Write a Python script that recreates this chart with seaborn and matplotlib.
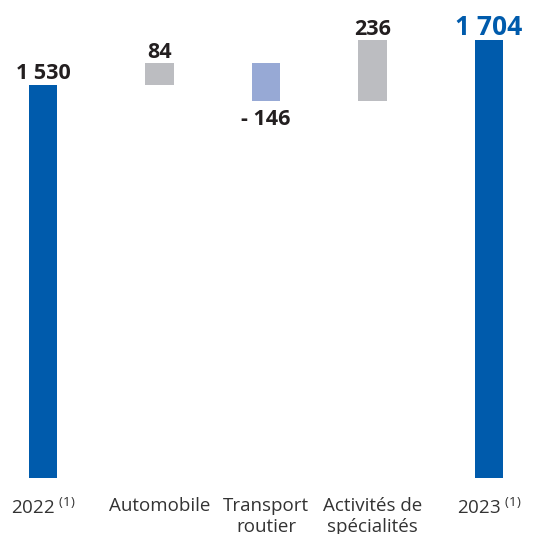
import numpy as np
import pandas as pd
import matplotlib
matplotlib.use('Agg')
import matplotlib.pyplot as plt
import seaborn as sns

## =============================== ##
## data

categories = ['2022', 'Automobile', 'Transport\nroutier', 'Activités de\nspécialités', '2023']
values = [1530, 84, -146, 236, 1704]
kinds = ['total', 'delta', 'delta', 'delta', 'total']
value_labels = ['1 530', '84', '- 146', '236', '1 704']
footnotes = ['(1)', '', '', '', '(1)']

BLUE = '#005BAC'
GREY = '#BCBDC1'
LIGHTBLUE = '#97A9D5'
DARK = '#231F20'

## =============================== ##

sns.set_style('white')
plt.rcParams['font.family'] = ['Open Sans', 'DejaVu Sans']

df = pd.DataFrame({'category': categories, 'value': values, 'kind': kinds})
# floating bars: bottom of each delta is the running total before it
running = 0.
bottoms, heights = [], []
for v, k in zip(df['value'], df['kind']):
	if k == 'total':
		bottoms.append(0.)
		heights.append(v)
		running = v
	else:
		bottoms.append(running if v >= 0 else running + v)
		heights.append(abs(v))
		running += v
df['bottom'] = bottoms
df['height'] = heights
df['top'] = df['bottom'] + df['height']
df['color'] = [BLUE if k == 'total' else (GREY if v >= 0 else LIGHTBLUE) for v, k in zip(df['value'], df['kind'])]

fig = plt.figure(figsize=(5.55, 5.34), dpi=100)
ax = fig.add_axes([0., 56. / 534, 1., 478. / 534])

# slot positions (the middle bars sit a bit closer together)
x = np.array([0., 1.045, 2., 2.955, 4.])
ax.bar(x, df['height'], bottom=df['bottom'], width=0.26, color=df['color'], edgecolor='none')

for i, row in df.iterrows():
	if row['kind'] == 'total':
		is_last = (i == len(df) - 1)
		ax.annotate(value_labels[i], xy=(x[i], row['top']), xytext=(0, 4), textcoords='offset points',
				ha='center', va='baseline', fontsize=19 if is_last else 15.5, fontweight='bold',
				color=BLUE if is_last else DARK)
	elif row['value'] >= 0:
		ax.annotate(value_labels[i], xy=(x[i], row['top']), xytext=(0, 4), textcoords='offset points',
				ha='center', va='baseline', fontsize=15.5, fontweight='bold', color=DARK)
	else:
		ax.annotate(value_labels[i], xy=(x[i], row['bottom']), xytext=(0, -6), textcoords='offset points',
				ha='center', va='top', fontsize=15.5, fontweight='bold', color=DARK)

ticklabels = [c + (r' $^{\mathregular{%s}}$' % f if f else '') for c, f in zip(categories, footnotes)]
ax.set_xticks(x)
ax.set_xticklabels(ticklabels, fontsize=13.5, color='#333333', linespacing=1.15)
ax.tick_params(axis='x', length=0, pad=14)
ax.set_yticks([])
ax.set_xlim(-43. / 111.5, 4 + (555. - 489.) / 111.5)
ax.set_ylim(0., 478. / 0.257)
sns.despine(ax=ax, left=True, bottom=True, right=True, top=True)

fig.savefig('out.png', dpi=100)
